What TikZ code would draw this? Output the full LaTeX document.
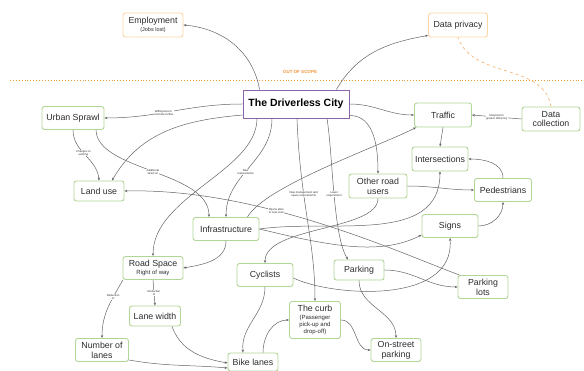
\documentclass[tikz,border=0pt]{standalone}
\usepackage{fontspec}
\setmainfont{Liberation Sans}
\usetikzlibrary{arrows.meta,calc}
\definecolor{boxgreen}{RGB}{178,214,150}
\definecolor{boxorange}{RGB}{250,214,166}
\definecolor{dcpurple}{RGB}{140,100,170}
\definecolor{scope}{RGB}{240,150,60}
\definecolor{edge}{RGB}{100,100,100}
\definecolor{txt}{RGB}{45,45,45}
\tikzset{
 box/.style={draw=boxgreen, line width=0.9pt, rounded corners=2.5pt, fill=white, align=center, inner sep=1pt, font=\fontsize{8.8}{9.8}\selectfont, text=txt},
 obox/.style={box, draw=boxorange},
 arr/.style={draw=edge, line width=0.5pt, -{Stealth[length=3pt,width=2.4pt]}},
 lbl/.style={font=\fontsize{2.8}{3.1}\selectfont, fill=white, inner sep=0.4pt, align=center, text=txt},
}
\begin{document}
\begin{tikzpicture}[x=1pt,y=1pt]
\useasboundingbox (0,0) rectangle (584,371);
% scope line
\draw[scope, line width=0.9pt, dotted] (10,291) -- (584,291);
\node[font=\fontsize{4.5}{5}\selectfont\bfseries, text=scope] (oos) at (300,299) {OUT OF SCOPE};
% nodes
\node[obox, minimum width=60pt, minimum height=24pt] (employment) at (153,346) {Employment\\[-2pt]{\fontsize{5.5}{6}\selectfont (Jobs lost)}};
\node[obox, minimum width=59pt, minimum height=24pt] (privacy) at (458,346) {Data privacy};
\node[box, draw=dcpurple, rounded corners=0pt, minimum width=106pt, minimum height=28pt, font=\fontsize{10.5}{12}\selectfont\bfseries, text=black] (dc) at (296,267) {The Driverless City};
\node[box, minimum width=62pt, minimum height=23pt] (sprawl) at (73,253) {Urban Sprawl};
\node[box, minimum width=57pt, minimum height=24pt] (traffic) at (443,256) {Traffic};
\node[box, minimum width=58pt, minimum height=24pt] (datacol) at (551,252) {Data\\collection};
\node[box, minimum width=56pt, minimum height=24pt] (inter) at (440,212) {Intersections};
\node[box, minimum width=58pt, minimum height=24pt] (oru) at (378,185) {Other road\\users};
\node[box, minimum width=57pt, minimum height=23pt] (ped) at (503,181) {Pedestrians};
\node[box, minimum width=56pt, minimum height=23pt] (signs) at (450,145) {Signs};
\node[box, minimum width=50pt, minimum height=20pt] (landuse) at (99,180) {Land use};
\node[box, minimum width=66pt, minimum height=23pt] (infra) at (226,142) {Infrastructure};
\node[box, minimum width=60pt, minimum height=23pt] (road) at (153,103) {Road Space\\[-2pt]{\fontsize{6}{7}\selectfont Right of way}};
\node[box, minimum width=51pt, minimum height=20pt] (lane) at (155,55) {Lane width};
\node[box, minimum width=53pt, minimum height=23pt] (numl) at (102,21) {Number of\\lanes};
\node[box, minimum width=50pt, minimum height=18pt] (bike) at (253,9) {Bike lanes};
\node[box, minimum width=56pt, minimum height=23pt] (cyc) at (265,96) {Cyclists};
\node[box, minimum width=50pt, minimum height=20pt] (parking) at (359,101) {Parking};
\node[box, minimum width=50pt, minimum height=23pt] (plots) at (483,84) {Parking\\lots};
\node[box, minimum width=51pt, minimum height=37pt] (curb) at (315,51) {The curb\\[-2pt]{\fontsize{6}{7}\selectfont (Passenger}\\[-3pt]{\fontsize{6}{7}\selectfont pick-up and}\\[-3pt]{\fontsize{6}{7}\selectfont drop-off)}};
\node[box, minimum width=50pt, minimum height=23pt] (onst) at (396,21) {On-street\\parking};
% edges
\draw[arr] ([xshift=17pt]dc.north west) to[out=100,in=-5] (employment.east);
\draw[arr] ([xshift=-13pt]dc.north east) to[out=60,in=190] ([yshift=2pt]privacy.south west);
\draw[scope!70, line width=0.7pt, dashed] (datacol.north) to[out=100,in=-70] (privacy.south);
\draw[arr] ([yshift=0pt]dc.west) to[out=180,in=0] node[lbl, pos=0.58] (l1) {Willingness to\\commute further} (sprawl.east);
\draw[arr] ([yshift=-11pt]dc.west) to[out=185,in=60] ([xshift=13pt]landuse.north);
\draw[arr] (dc.east) to[out=0,in=180] (traffic.west);
\draw[arr] ([yshift=3pt]dc.south east) to[out=0,in=90] (oru.north);
\draw[arr] ([xshift=-24pt]dc.south) to[out=-90,in=90] node[lbl, pos=0.55] (l2) {New\\requirements} (infra.north);
\draw[arr] ([xshift=-39pt]dc.south) .. controls (257,200) and (153,175) .. (road.north);
\draw[arr] ([xshift=1pt]dc.south) .. controls (300,170) and (315,130) .. node[lbl, pos=0.36] (l3) {New management and\\space requirements} (curb.north);
\draw[arr] ([xshift=31pt]dc.south) .. controls (333,215) and (333,135) .. node[lbl, pos=0.5] (l4) {Lower\\requirement} ([xshift=-11pt]parking.north);
\draw[arr] (sprawl.south) to[out=-90,in=95] node[lbl, pos=0.45] (l5) {Changes to\\existing} (landuse.north);
\draw[arr] ([xshift=23pt]sprawl.south) .. controls (97,200) and (209,200) .. node[lbl, pos=0.5] (l6) {Additional\\strain on} ([xshift=-17pt]infra.north);
\draw[arr] ([xshift=2pt]plots.north west) .. controls (400,118) and (260,183) .. node[lbl, pos=0.62] (l7) {Opens plots\\to new uses} (landuse.east);
\draw[arr] (infra.south) to[out=-90,in=10] (road.east);
\draw[arr] ([xshift=-12pt]infra.north east) .. controls (265,185) and (380,225) .. ([xshift=2pt]traffic.south west);
\draw[arr] (infra.east) to[out=8,in=-90] (inter.south);
\draw[arr] (infra.east) .. controls (330,125) and (380,115) .. ([yshift=3pt]signs.south west);
\draw[arr] (oru.east) to[out=0,in=180] (ped.west);
\draw[arr] (oru.south) .. controls (378,140) and (265,145) .. (cyc.north);
\draw[arr] (traffic.south) to (inter.north);
\draw[arr] (datacol.west) -- node[lbl] (l8) {Respond to\\greater efficiency} (traffic.east);
\draw[arr] (ped.north) to[out=90,in=0] (inter.east);
\draw[arr] (signs.east) to[out=0,in=-90] (ped.south);
\draw[arr] (road.south) -- node[lbl] (l9) {Reduction\\of} (lane.north);
\draw[arr] ([xshift=-30pt]road.south) to[out=-120,in=90] node[lbl, pos=0.3] (l10) {Reduction\\of} (numl.north);
\draw[arr] ([xshift=17pt]lane.south) to[out=-70,in=170] ([yshift=-1pt]bike.west);
\draw[arr] ([yshift=-10pt]numl.east) to[out=-10,in=175] ([yshift=-6pt]bike.west);
\draw[arr] (cyc.south) to[out=-90,in=95] ([xshift=-10pt]bike.north);
\draw[arr] ([xshift=10pt]bike.north) to[out=90,in=180] (curb.west);
\draw[arr] (curb.east) to[out=0,in=180] (onst.west);
\draw[arr] (parking.south) to[out=-90,in=90] (onst.north);
\draw[arr] (parking.east) to[out=0,in=180] (plots.west);
\draw[arr] ([yshift=-3pt]cyc.east) .. controls (330,75) and (455,65) .. (signs.south);
\end{tikzpicture}
\end{document}
